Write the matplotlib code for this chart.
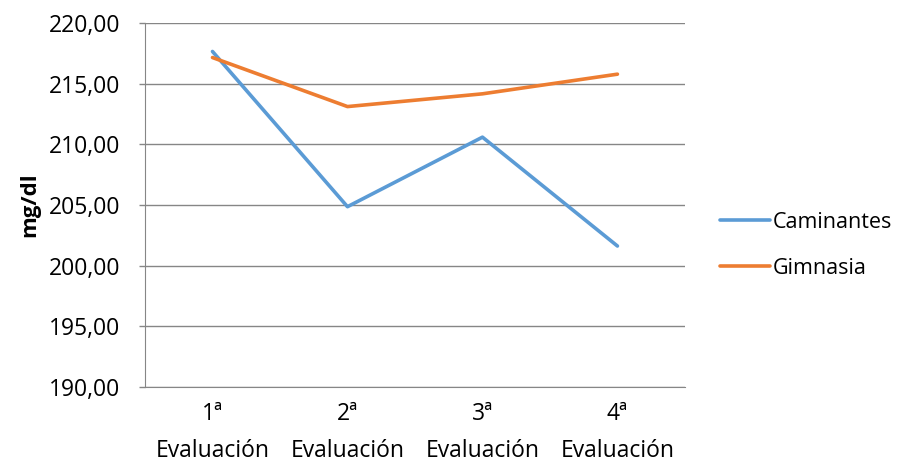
import matplotlib
matplotlib.use("Agg")
import matplotlib.pyplot as plt
from matplotlib.ticker import FuncFormatter

categories = ["1ª\nEvaluación", "2ª\nEvaluación", "3ª\nEvaluación", "4ª\nEvaluación"]
caminantes = [217.66, 204.87, 210.60, 201.63]
gimnasia = [217.16, 213.12, 214.17, 215.79]

plt.rcParams['font.family'] = ['Open Sans', 'DejaVu Sans']

fig = plt.figure(figsize=(9.12, 4.71), dpi=100)
ax = fig.add_axes([0.159, 0.178, 0.592, 0.773])

x = range(len(categories))
ax.plot(x, caminantes, color="#5B9BD5", lw=2.6, label="Caminantes", solid_capstyle="round")
ax.plot(x, gimnasia, color="#ED7D31", lw=2.6, label="Gimnasia", solid_capstyle="round")

ax.set_xlim(-0.5, 3.5)
ax.set_ylim(190, 220)
ax.set_yticks(range(190, 221, 5))
ax.yaxis.set_major_formatter(FuncFormatter(lambda v, p: f"{v:.2f}".replace(".", ",")))
ax.set_xticks(list(x))
ax.set_xticklabels(categories, fontsize=16.5, linespacing=1.7)
ax.tick_params(axis='y', labelsize=16.5, length=4, color="#868686", width=1, pad=14)
ax.tick_params(axis='x', length=0, pad=11)

ax.grid(axis='y', color="#868686", lw=1)
ax.set_axisbelow(True)
for s in ["top", "right"]:
    ax.spines[s].set_visible(False)
ax.spines["left"].set_color("#868686")
ax.spines["bottom"].set_color("#868686")

ax.set_ylabel("mg/dl", fontsize=16, fontweight="bold", labelpad=6)

ax.legend(loc="center left", bbox_to_anchor=(1.03, 0.39), frameon=False, fontsize=15.5,
          handlelength=2.3, handletextpad=0.15, labelspacing=1.15)

fig.savefig("out.png", dpi=100)
